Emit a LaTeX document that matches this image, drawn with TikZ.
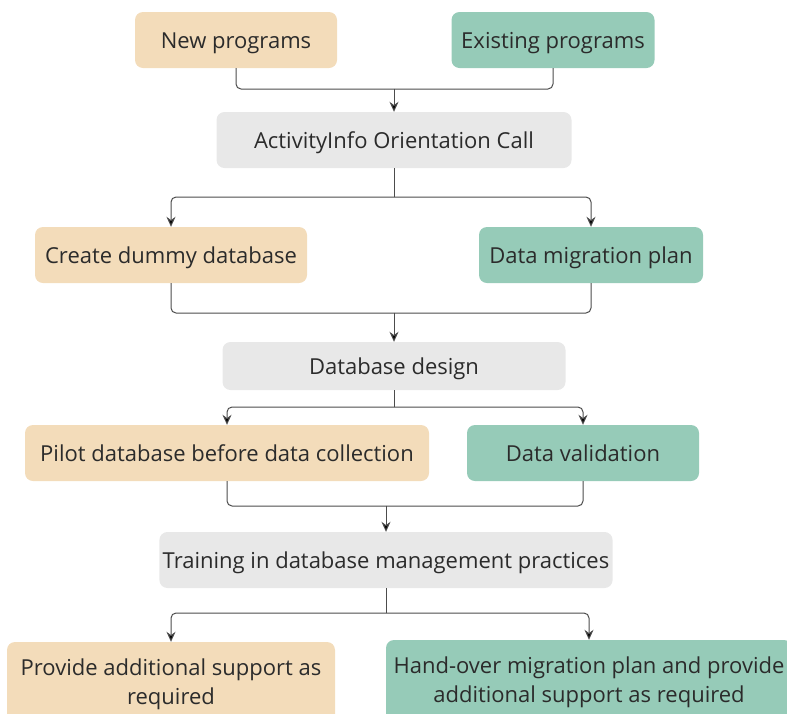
\documentclass[tikz,border=0pt]{standalone}
\usepackage{fontspec}
\setmainfont{Open Sans}
\usetikzlibrary{shapes.geometric, arrows.meta}
\definecolor{peach}{HTML}{F3DCBA}
\definecolor{teal}{HTML}{96CBB8}
\definecolor{greybox}{HTML}{E8E8E8}
\definecolor{inkgrey}{HTML}{2B2B2B}
\tikzstyle{newstep} = [
    rectangle,
    rounded corners=8pt,
    minimum height=56pt,
    text height=20pt,
    text depth=4pt,
    align=center,
    text=inkgrey,
    fill=peach
]
\tikzstyle{oldstep} = [
    rectangle,
    rounded corners=8pt,
    minimum height=56pt,
    text height=20pt,
    text depth=4pt,
    align=center,
    text=inkgrey,
    fill=teal
]
\tikzstyle{commonstep} = [
    rectangle,
    rounded corners=8pt,
    minimum height=56pt,
    text height=20pt,
    text depth=4pt,
    align=center,
    text=inkgrey,
    fill=greybox
]
\tikzstyle{twolines} = [
    minimum height=84pt,
    text height=44pt,
    text depth=4pt,
    inner sep=2pt
]
\tikzstyle{arrow} = [line width=1pt,draw=black!70,rounded corners=5pt,-{Stealth[length=10pt,width=9pt,fill=black]}]
\tikzstyle{link} = [line width=1pt,draw=black!70,rounded corners=5pt]

\begin{document}
\begin{tikzpicture}[x=1pt,y=-1pt,font=\fontsize{22}{29}\selectfont]

\useasboundingbox (0,0) rectangle (787,713);
\clip (0,0) rectangle (787,713);

\node (newprog) [newstep, minimum width=202pt] at (236,40) {New programs};
\node (oldprog) [oldstep, minimum width=203pt] at (553,40) {Existing programs};

\node (orient) [commonstep, minimum width=355pt] at (394,140)
{ActivityInfo Orientation Call};

\node (dummy) [newstep, minimum width=272pt] at (171,255)
{Create dummy database};
\node (migplan) [oldstep, minimum width=224pt] at (591,255)
{Data migration plan};

\node (design) [commonstep, minimum width=343pt, minimum height=48pt] at (394,366)
{Database design};

\node (pilot) [newstep, minimum width=404pt] at (227,453)
{Pilot database before data collection};
\node (valid) [oldstep, minimum width=232pt] at (583,453)
{Data validation};

\node (training) [commonstep, minimum width=452pt] at (386,560)
{Training in database management practices};

\node (support) [newstep, twolines, minimum width=328pt] at (171,684)
{Provide additional support as\\required};
\node (handover) [oldstep, twolines, minimum width=406pt] at (589,682)
{Hand-over migration plan and provide\\additional support as required};

\coordinate (join1) at (394,89);
\coordinate (fork1) at (394,197);
\coordinate (join2) at (394,313);
\coordinate (fork2) at (394,407);
\coordinate (join3) at (386,506);
\coordinate (fork3) at (386,613);

\draw [link] (newprog.south) |- (join1);
\draw [link] (oldprog.south) |- (join1);
\draw [arrow] (join1) -- (orient.north);

\draw [link] (orient.south) -- (fork1);
\draw [arrow] (fork1) -| (dummy.north);
\draw [arrow] (fork1) -| (migplan.north);

\draw [link] (dummy.south) |- (join2);
\draw [link] (migplan.south) |- (join2);
\draw [arrow] (join2) -- (design.north);

\draw [link] (design.south) -- (fork2);
\draw [arrow] (fork2) -| (pilot.north);
\draw [arrow] (fork2) -| (valid.north);

\draw [link] (pilot.south) |- (join3);
\draw [link] (valid.south) |- (join3);
\draw [arrow] (join3) -- (training.north);

\draw [link] (training.south) -- (fork3);
\draw [arrow] (fork3) -| (support.north);
\draw [arrow] (fork3) -| (handover.north);

\end{tikzpicture}
\end{document}
